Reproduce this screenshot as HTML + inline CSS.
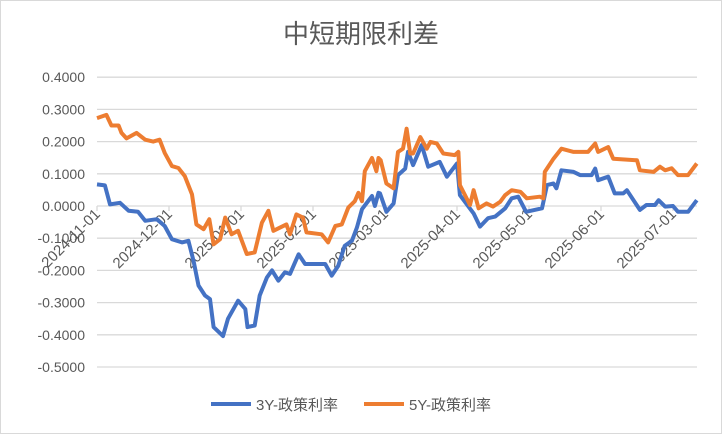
<!DOCTYPE html>
<html><head><meta charset="utf-8"><style>
body{margin:0;background:#fff}
svg{display:block;font-family:"Liberation Sans","Noto Sans CJK SC",sans-serif}
</style></head><body>
<svg id="chart" width="722" height="434" viewBox="0 0 722 434" xmlns="http://www.w3.org/2000/svg">
<rect x="0.5" y="0.5" width="721" height="433" fill="#fff" stroke="#d9d9d9"/>
<text x="361" y="43" text-anchor="middle" font-size="26" fill="#595959">中短期限利差</text>
<g id="grid"></g><g id="yaxis"></g><g id="xaxis"></g><g id="series"></g>
<g>
<line x1="211" y1="404" x2="251" y2="404" stroke="#4472c4" stroke-width="4"/>
<text x="256" y="410" font-size="15" fill="#595959">3Y-政策利率</text>
<line x1="364" y1="404" x2="404" y2="404" stroke="#ed7d31" stroke-width="4"/>
<text x="409" y="410" font-size="15" fill="#595959">5Y-政策利率</text>
</g>
</svg>
<script>
const yTicks=[0.4,0.3,0.2,0.1,0,-0.1,-0.2,-0.3,-0.4,-0.5];
const monthLabels=["2024-11-01","2024-12-01","2025-01-01","2025-02-01","2025-03-01","2025-04-01","2025-05-01","2025-06-01","2025-07-01"];
const t5=[0,.13,.20,.30,.34,.41,.55,.67,.78,.87,.94,1.04,1.13,1.22,1.32,1.38,1.48,1.56,1.62,1.71,1.78,1.87,1.96,2.08,2.19,2.29,2.38,2.45,2.63,2.68,2.77,2.86,2.91,3.12,3.21,3.31,3.40,3.49,3.58,3.63,3.68,3.72,3.82,3.88,3.91,3.94,4.02,4.12,4.18,4.25,4.30,4.35,4.39,4.49,4.58,4.63,4.72,4.81,4.97,5.02,5.04,5.18,5.23,5.30,5.41,5.50,5.60,5.67,5.76,5.88,5.97,6.15,6.20,6.22,6.34,6.45,6.62,6.82,6.92,6.96,7.10,7.17,7.50,7.54,7.73,7.82,7.89,7.98,8.07,8.21,8.33];
const v5=[.273,.283,.25,.25,.227,.21,.227,.206,.20,.206,.165,.124,.118,.093,.036,-.057,-.072,-.041,-.119,-.103,-.036,-.088,-.077,-.149,-.144,-.052,-.015,-.077,-.057,-.088,-.026,-.036,-.082,-.088,-.113,-.062,-.057,-.005,.015,.041,.015,.108,.149,.108,.149,.142,.07,.055,.168,.178,.24,.163,.163,.214,.178,.199,.194,.163,.158,.168,.065,.003,.049,-.007,.008,-.002,.013,.034,.049,.044,.024,.029,.024,.106,.147,.178,.168,.168,.194,.168,.183,.147,.142,.111,.106,.122,.111,.117,.096,.096,.132];
const t3=[0,.11,.18,.32,.44,.57,.67,.83,.94,1.04,1.18,1.27,1.34,1.41,1.5,1.57,1.62,1.75,1.82,1.96,2.06,2.09,2.19,2.26,2.36,2.43,2.52,2.61,2.68,2.75,2.80,2.89,3.17,3.26,3.35,3.44,3.54,3.61,3.68,3.82,3.86,3.91,3.93,4.02,4.12,4.18,4.28,4.32,4.39,4.51,4.60,4.76,4.86,5.0,5.04,5.23,5.32,5.43,5.53,5.67,5.76,5.85,5.96,6.18,6.25,6.34,6.38,6.45,6.62,6.71,6.87,6.92,6.96,7.10,7.19,7.31,7.36,7.54,7.63,7.75,7.80,7.89,8.0,8.07,8.21,8.33];
const v3=[.067,.064,.005,.01,-.015,-.018,-.046,-.041,-.062,-.103,-.113,-.108,-.17,-.247,-.278,-.289,-.376,-.404,-.35,-.294,-.32,-.376,-.371,-.278,-.222,-.2,-.232,-.206,-.211,-.175,-.15,-.18,-.18,-.216,-.186,-.124,-.108,-.067,-.01,.031,0,.041,.039,-.018,.008,.096,.116,.168,.127,.189,.122,.137,.091,.132,.034,-.023,-.064,-.038,-.033,-.007,.024,.029,-.018,-.007,.065,.07,.055,.111,.106,.096,.096,.116,.08,.091,.039,.039,.049,-.012,.003,.003,.018,-.002,0,-.018,-.018,.018];
const NS="http://www.w3.org/2000/svg";
const X0=97,X1=697,MW=72,Y0=206,UNIT=322;
function xs(t){return X0+MW*t}
function ys(v){return Y0-v*UNIT}
function mk(tag,attrs,parent){const e=document.createElementNS(NS,tag);for(const k in attrs)e.setAttribute(k,attrs[k]);parent.appendChild(e);return e}
const grid=document.getElementById('grid'),ya=document.getElementById('yaxis'),xa=document.getElementById('xaxis'),sr=document.getElementById('series');
yTicks.forEach(v=>{
  if(v!==0){const l=mk('line',{x1:X0,x2:X1,y1:ys(v),y2:ys(v),stroke:'#d9d9d9','stroke-width':1.3},grid);
  
  }
  const t=mk('text',{x:85,y:ys(v)+5,'text-anchor':'end','font-size':14,fill:'#595959'},ya);
  
  
  t.textContent=v.toFixed(4);
});
const ax=mk('line',{x1:X0,x2:X1,y1:ys(0),y2:ys(0),stroke:'#d9d9d9','stroke-width':1.3},xa);


monthLabels.forEach((m,i)=>{
  const x=xs(i);
  const tk=mk('line',{x1:x,x2:x,y1:ys(0),y2:ys(0)+5,stroke:'#d9d9d9','stroke-width':1.3},xa);
  
  
  const t=mk('text',{x:x+4,y:ys(0)+9,'text-anchor':'end','font-size':15,fill:'#595959',transform:`rotate(-45 ${x+4} ${ys(0)+9})`},xa);
  
  
  t.textContent=m;
});
function line(ts,vs,color,name){
  const d=ts.map((t,i)=>(i?'L':'M')+xs(t).toFixed(1)+' '+ys(vs[i]).toFixed(1)).join(' ');
  const p=mk('path',{d:d,fill:'none',stroke:color,'stroke-width':4,'stroke-linejoin':'round'},sr);
  
  
}
line(t3,v3,'#4472c4','series-3y-line');
line(t5,v5,'#ed7d31','series-5y-line');
</script>
</body></html>
